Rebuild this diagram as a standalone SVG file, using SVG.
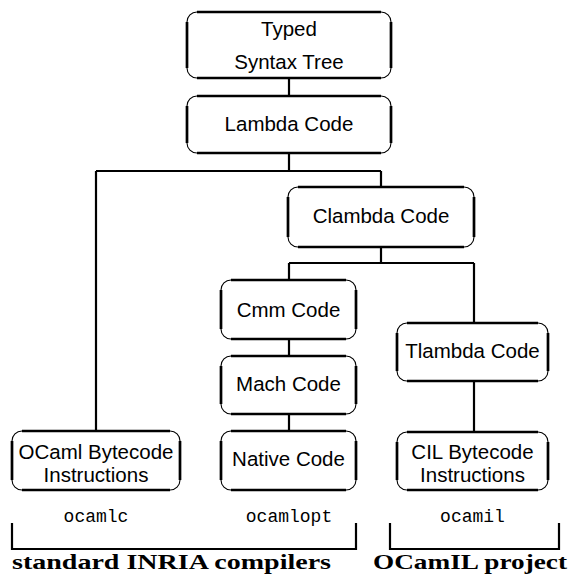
<svg xmlns="http://www.w3.org/2000/svg" width="569" height="575" viewBox="0 0 569 575">
  <style>
    .box { fill: #fff; stroke: #000; stroke-width: 1.1; }
    .edge { fill: none; stroke: #000; stroke-width: 2.7; }
    .wire { fill: none; stroke: #000; stroke-width: 2.2; }
    .lbl { font-family: "Liberation Sans", Arial, sans-serif; font-size: 20.5px; fill: #000; text-anchor: middle; }
    .tool { font-family: "Liberation Mono", "Courier New", monospace; font-size: 18px; fill: #000; text-anchor: middle; }
    .group { font-family: "Liberation Serif", "Times New Roman", serif; font-weight: bold; font-size: 22px; fill: #000; }
  </style>

  <!-- connectors -->
  <g id="connectors">
    <path class="wire" d="M289 78 V96"/>
    <path class="wire" d="M289 153 V171 M96 171 H381 M96 171 V431 M381 171 V187"/>
    <path class="wire" d="M381 247 V263 M289 263 H474 M289 263 V280 M474 263 V323"/>
    <path class="wire" d="M289 339 V356 M289 414 V431"/>
    <path class="wire" d="M474 381 V432"/>
  </g>

  <!-- nodes -->
  <g id="typed">
    <rect class="box" x="187" y="12" width="204" height="66" rx="10"/>
    <path class="edge" d="M197 12 H381 M391 22 V68 M381 78 H197 M187 68 V22"/>
    <text class="lbl" x="289" y="36">Typed</text>
    <text class="lbl" x="289" y="69">Syntax Tree</text>
  </g>
  <g id="lambda">
    <rect class="box" x="187" y="96" width="204" height="57" rx="10"/>
    <path class="edge" d="M197 96 H381 M391 106 V143 M381 153 H197 M187 143 V106"/>
    <text class="lbl" x="289" y="131">Lambda Code</text>
  </g>
  <g id="clambda">
    <rect class="box" x="288" y="187" width="186" height="60" rx="10"/>
    <path class="edge" d="M298 187 H464 M474 197 V237 M464 247 H298 M288 237 V197"/>
    <text class="lbl" x="381" y="223">Clambda Code</text>
  </g>
  <g id="cmm">
    <rect class="box" x="221" y="280" width="135" height="59" rx="10"/>
    <path class="edge" d="M231 280 H346 M356 290 V329 M346 339 H231 M221 329 V290"/>
    <text class="lbl" x="288.5" y="317">Cmm Code</text>
  </g>
  <g id="mach">
    <rect class="box" x="221" y="356" width="135" height="58" rx="10"/>
    <path class="edge" d="M231 356 H346 M356 366 V404 M346 414 H231 M221 404 V366"/>
    <text class="lbl" x="288.5" y="391">Mach Code</text>
  </g>
  <g id="native">
    <rect class="box" x="221" y="431" width="135" height="59" rx="10"/>
    <path class="edge" d="M231 431 H346 M356 441 V480 M346 490 H231 M221 480 V441"/>
    <text class="lbl" x="288.5" y="466">Native Code</text>
  </g>
  <g id="ocaml-bytecode">
    <rect class="box" x="12" y="431" width="168" height="59" rx="10"/>
    <path class="edge" d="M22 431 H170 M180 441 V480 M170 490 H22 M12 480 V441"/>
    <text class="lbl" x="96" y="459">OCaml Bytecode</text>
    <text class="lbl" x="96" y="482">Instructions</text>
  </g>
  <g id="tlambda">
    <rect class="box" x="397" y="323" width="151" height="58" rx="10"/>
    <path class="edge" d="M407 323 H538 M548 333 V371 M538 381 H407 M397 371 V333"/>
    <text class="lbl" x="472.5" y="358">Tlambda Code</text>
  </g>
  <g id="cil-bytecode">
    <rect class="box" x="397" y="432" width="151" height="58" rx="10"/>
    <path class="edge" d="M407 432 H538 M548 442 V480 M538 490 H407 M397 480 V442"/>
    <text class="lbl" x="472.5" y="459">CIL Bytecode</text>
    <text class="lbl" x="472.5" y="482">Instructions</text>
  </g>

  <!-- compiler names and grouping brackets -->
  <g id="tools">
    <text class="tool" x="96" y="522">ocamlc</text>
    <text class="tool" x="289" y="522">ocamlopt</text>
    <text class="tool" x="472.5" y="522">ocamil</text>
  </g>
  <g id="inria-group">
    <path class="wire" d="M12 523 V549 H356 V523"/>
    <text class="group" x="12" y="569" textLength="319" lengthAdjust="spacingAndGlyphs">standard INRIA compilers</text>
  </g>
  <g id="ocamil-group">
    <path class="wire" d="M390 523 V549 H559 V523"/>
    <text class="group" x="373" y="569" textLength="194" lengthAdjust="spacingAndGlyphs">OCamIL project</text>
  </g>
</svg>
